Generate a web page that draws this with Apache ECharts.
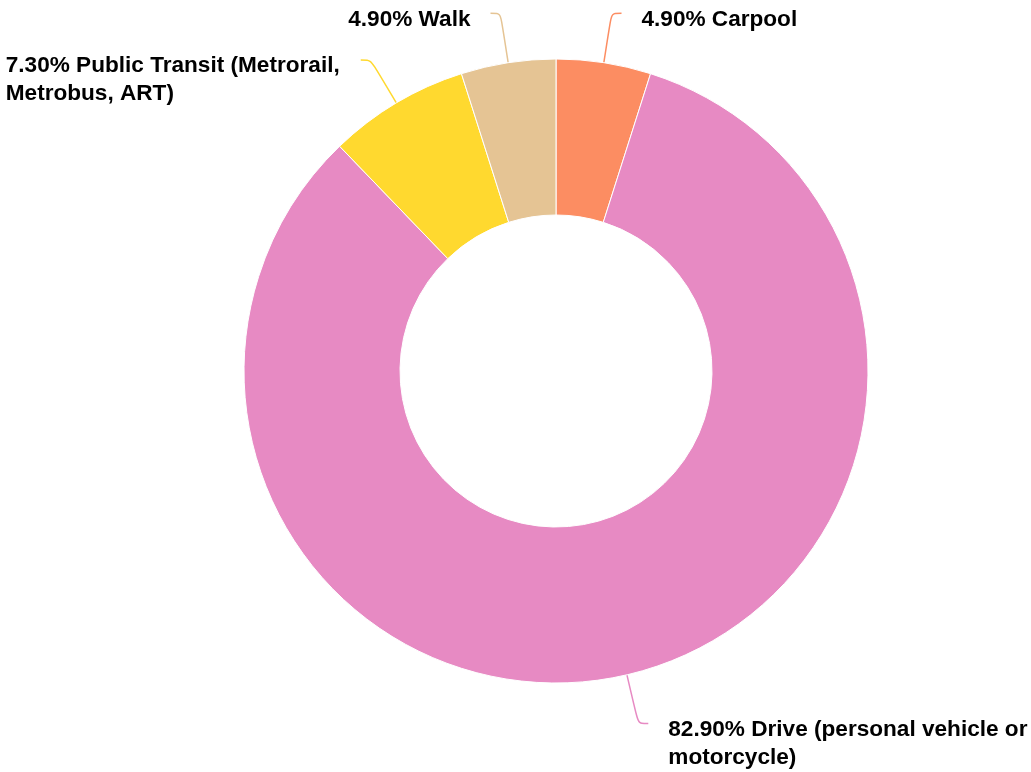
<!DOCTYPE html>
<html>
<head>
<meta charset="utf-8">
<script src="https://cdn.jsdelivr.net/npm/echarts@6/dist/echarts.min.js"></script>
<style>
html,body{margin:0;padding:0;background:#fff;}
#chart{width:1031px;height:772px;}
</style>
</head>
<body>
<div id="chart"></div>
<script>
const categories = ['Carpool', 'Drive (personal vehicle or motorcycle)', 'Public Transit (Metrorail, Metrobus, ART)', 'Walk'];
const values = [4.9, 82.9, 7.3, 4.9];
const colors = ['#fc8d62', '#e78ac3', '#ffd92f', '#e5c494'];

const FONT = '"Liberation Sans", Arial, Helvetica, sans-serif';
const labelWidths = [null, 374, 346, null];

const data = categories.map((name, i) => {
  const multi = labelWidths[i] != null;
  const label = {
    padding: [multi ? 40 : 12, i === 2 ? 4 : 15, 0, 15]
  };
  if (multi) {
    label.width = labelWidths[i];
    label.overflow = 'break';
  }
  return { name, value: values[i], itemStyle: { color: colors[i] }, label };
});

const chart = echarts.init(document.getElementById('chart'), null, { renderer: 'canvas' });
chart.setOption({
  backgroundColor: '#ffffff',
  animation: false,
  series: [{
    type: 'pie',
    center: [556, 371],
    radius: [156, 312],
    startAngle: 90,
    clockwise: true,
    avoidLabelOverlap: false,
    itemStyle: { borderColor: '#ffffff', borderWidth: 1 },
    label: {
      show: true,
      position: 'outside',
      formatter: p => '{t|' + p.value.toFixed(2) + '% ' + p.name + '}',
      rich: {
        t: {
          fontFamily: FONT,
          fontSize: 22.6,
          fontWeight: 'bold',
          lineHeight: 28,
          color: '#000000',
          align: 'left'
        }
      }
    },
    labelLine: {
      show: true,
      length: 50,
      length2: 10,
      smooth: 0.3,
      lineStyle: { width: 1.5 }
    },
    data
  }]
});
</script>
</body>
</html>
